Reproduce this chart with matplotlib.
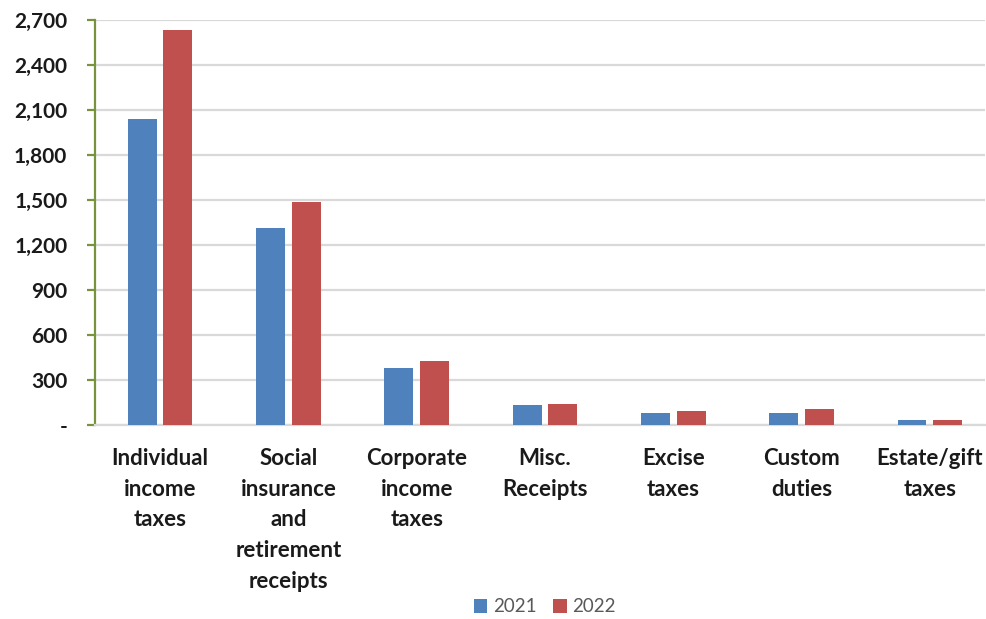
import matplotlib
matplotlib.use("Agg")
import matplotlib.pyplot as plt
import numpy as np
from matplotlib.ticker import FuncFormatter

categories = ["Individual\nincome\ntaxes", "Social\ninsurance\nand\nretirement\nreceipts",
              "Corporate\nincome\ntaxes", "Misc.\nReceipts", "Excise\ntaxes",
              "Custom\nduties", "Estate/gift\ntaxes"]
values_2021 = [2040, 1313, 377, 130, 79, 79, 28]
values_2022 = [2630, 1487, 423, 137, 88, 103, 28]
series_names = ["2021", "2022"]
yticks = [0, 300, 600, 900, 1200, 1500, 1800, 2100, 2400, 2700]

plt.rcParams['font.family'] = ['Lato', 'DejaVu Sans']

fig = plt.figure(figsize=(9.87, 6.19), dpi=100)
ax = fig.add_axes([95/987, 1-424.5/619, (985-95)/987, (424.5-20)/619])

x = np.arange(len(categories))
w = 0.226
off = 0.139
b1 = ax.bar(x - off, values_2021, w, color="#4F81BD", label=series_names[0], zorder=3)
b2 = ax.bar(x + off, values_2022, w, color="#C0504D", label=series_names[1], zorder=3)

ax.set_xlim(-0.507, 6.43)
ax.set_ylim(0, 2700)
ax.set_yticks(yticks)
ax.yaxis.set_major_formatter(FuncFormatter(lambda v, p: "-" if v == 0 else f"{int(v):,}"))
ax.grid(axis='y', color="#D9D9D9", linewidth=1.6, zorder=0)
ax.set_axisbelow(True)

for s in ["top", "right"]:
    ax.spines[s].set_visible(False)
ax.spines["bottom"].set_color("#D9D9D9")
ax.spines["bottom"].set_linewidth(1.6)
ax.spines["left"].set_color("#77933C")
ax.spines["left"].set_linewidth(1.6)
ax.tick_params(axis='y', color="#77933C", length=6, width=1.6, labelsize=15, pad=14)
ax.tick_params(axis='x', length=0, pad=17)
for lab in ax.get_yticklabels():
    lab.set_fontweight('bold')
    lab.set_color("#1a1a1a")

ax.set_xticks(x)
ax.set_xticklabels(categories, fontsize=16, fontweight='bold', linespacing=1.57,
                   va='top', color="#1a1a1a")

leg = fig.legend(handles=[b1, b2], loc='center', bbox_to_anchor=(545/987, 1-607/619),
                 ncol=2, frameon=False, fontsize=13.5, handlelength=0.7, handleheight=0.7,
                 handletextpad=0.3, columnspacing=0.9)
for t in leg.get_texts():
    t.set_color("#595959")

fig.savefig("out.png", dpi=100)
